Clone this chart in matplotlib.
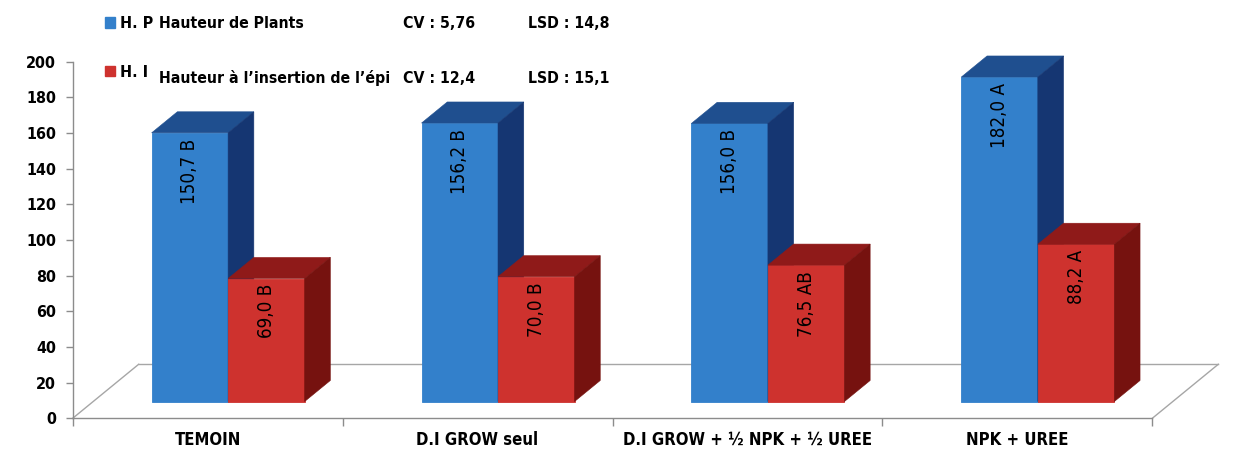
import matplotlib

matplotlib.use("Agg")

import matplotlib.pyplot as plt
from matplotlib.patches import Patch
from matplotlib.ticker import FixedLocator, NullFormatter, FixedFormatter

plt.rcParams["font.family"] = ["DejaVu Sans"]
plt.rcParams["font.stretch"] = "condensed"

categories = ["TEMOIN", "D.I GROW seul", "D.I GROW + ½ NPK + ½ UREE", "NPK + UREE"]
hauteur_plants = [150.7, 156.2, 156.0, 182.0]
hauteur_epi = [69.0, 70.0, 76.5, 88.2]
lettres_plants = ["B", "B", "B", "A"]
lettres_epi = ["B", "B", "AB", "A"]
y_ticks = list(range(0, 201, 20))

BLUE = ("#3380CB", "#1F4F8F", "#153672")
RED = ("#CE322E", "#8F1A19", "#76120F")
GRID = "#A6A6A6"

# perspective of the floor (data units) and where the bars sit in depth
FLOOR_DX, FLOOR_DY = 0.2445, 30.3
FRONT, BACK = 0.31, 0.70
BAR_W = 0.2834


def _label(value, letter):
    return f"{value:.1f}".replace(".", ",") + " " + letter


def _bar3d(ax, x0, height, colors, text):
    ox, oy = FRONT * FLOOR_DX, FRONT * FLOOR_DY
    dx, dy = (BACK - FRONT) * FLOOR_DX, (BACK - FRONT) * FLOOR_DY
    left, right = x0 + ox, x0 + ox + BAR_W
    bottom, top = oy, oy + height
    front, top_col, side = colors
    ax.fill([left, right, right, left], [bottom, bottom, top, top],
            color=front, lw=0.6, ec=front, zorder=3)
    ax.fill([left, right, right + dx, left + dx], [top, top, top + dy, top + dy],
            color=top_col, lw=0.4, ec=top_col, zorder=3)
    ax.fill([right, right, right + dx, right + dx], [bottom, top, top + dy, bottom + dy],
            color=side, lw=0.4, ec=side, zorder=3)
    ax.annotate(text, ((left + right) / 2, top), xytext=(0, -4), textcoords="offset points",
                rotation=90, ha="center", va="top", fontsize=13.5, color="black", zorder=4)


fig = plt.figure(figsize=(12.39, 4.59), dpi=100)
ax = fig.add_axes([0, 0, 1, 1])
ax.set_xlim(-0.26936, 4.3212)
ax.set_ylim(-22.83, 234.6)

# floor outline
ax.plot([0, FLOOR_DX], [0, FLOOR_DY], color=GRID, lw=1, zorder=1)
ax.plot([FLOOR_DX, len(categories) + FLOOR_DX], [FLOOR_DY, FLOOR_DY], color=GRID, lw=1, zorder=1)
ax.plot([len(categories), len(categories) + FLOOR_DX], [0, FLOOR_DY], color=GRID, lw=1, zorder=1)

for i, (hp, hi) in enumerate(zip(hauteur_plants, hauteur_epi)):
    center = i + 0.5
    _bar3d(ax, center - BAR_W, hp, BLUE, _label(hp, lettres_plants[i]))
    _bar3d(ax, center, hi, RED, _label(hi, lettres_epi[i]))

for side in ("top", "right"):
    ax.spines[side].set_visible(False)
ax.spines["left"].set_position(("data", 0))
ax.spines["bottom"].set_position(("data", 0))
ax.spines["left"].set_bounds(0, 200)
ax.spines["bottom"].set_bounds(0, len(categories))
for side in ("left", "bottom"):
    ax.spines[side].set_color("#8C8C8C")
    ax.spines[side].set_linewidth(1)

ax.set_yticks(y_ticks)
ax.set_yticklabels([str(t) for t in y_ticks])
ax.tick_params(axis="y", direction="out", length=5, width=1, color="#8C8C8C", pad=7,
               labelsize=11.5)
for lab in ax.get_yticklabels():
    lab.set_fontweight("bold")

ax.xaxis.set_major_locator(FixedLocator(range(len(categories) + 1)))
ax.xaxis.set_major_formatter(NullFormatter())
ax.xaxis.set_minor_locator(FixedLocator([i + 0.5 for i in range(len(categories))]))
ax.xaxis.set_minor_formatter(FixedFormatter(categories))
ax.tick_params(axis="x", which="major", direction="out", length=6, width=1, color="#8C8C8C")
ax.tick_params(axis="x", which="minor", length=0, pad=9, labelsize=12)
for lab in ax.get_xticklabels(minor=True):
    lab.set_fontweight("bold")

# legend and statistics
leg = ax.legend(handles=[Patch(color=BLUE[0]), Patch(color=RED[0])], labels=["H. P", "H. I"],
                loc="upper left", bbox_to_anchor=(105 / 1239, 1 - 16 / 459),
                bbox_transform=fig.transFigure, frameon=False, borderpad=0, borderaxespad=0,
                handlelength=0.65, handleheight=0.65, handletextpad=0.3, labelspacing=2.1,
                prop={"weight": "bold", "size": 11.5, "stretch": "condensed"})

stats = [
    ("Hauteur de Plants", "CV : 5,76", "LSD : 14,8", 23),
    ("Hauteur à l’insertion de l’épi", "CV : 12,4", "LSD : 15,1", 78),
]
for desc, cv, lsd, ypix in stats:
    for xpix, txt in ((159, desc), (403, cv), (528, lsd)):
        fig.text(xpix / 1239, 1 - ypix / 459, txt, ha="left", va="center",
                 fontsize=11.3, fontweight="bold")

fig.savefig("out.png", dpi=100)
